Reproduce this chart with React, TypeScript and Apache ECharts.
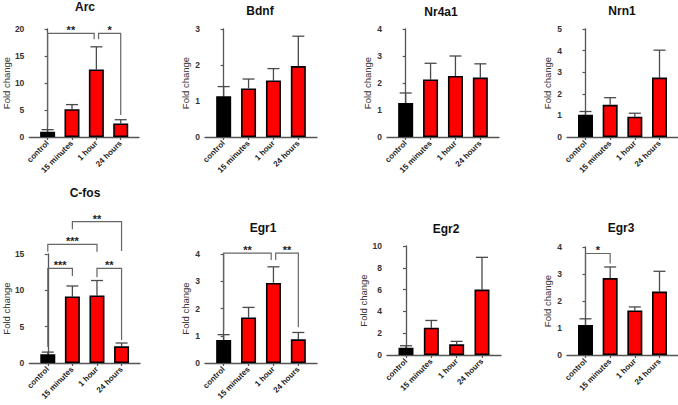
import React, { useEffect, useRef } from "react";
import * as echarts from "echarts";

// Time points after stimulation
const categories = ["control", "15 minutes", "1 hour", "24 hours"];

// Mean fold change and SEM per gene
const arcMean = [0.95, 5.15, 12.5, 2.5];
const arcSem = [0.41, 0.85, 4.2, 0.7];
const bdnfMean = [1.13, 1.35, 1.57, 1.97];
const bdnfSem = [0.27, 0.26, 0.33, 0.83];
const nr4a1Mean = [1.26, 2.13, 2.26, 2.2];
const nr4a1Sem = [0.37, 0.6, 0.74, 0.51];
const nrn1Mean = [1.03, 1.49, 0.94, 2.75];
const nrn1Sem = [0.15, 0.33, 0.16, 1.27];
const cfosMean = [1.2, 9.15, 9.3, 2.3];
const cfosSem = [0.3, 1.45, 2.05, 0.45];
const egr1Mean = [0.84, 1.67, 2.94, 0.87];
const egr1Sem = [0.2, 0.37, 0.59, 0.25];
const egr2Mean = [0.67, 2.5, 0.98, 6.0];
const egr2Sem = [0.18, 0.67, 0.27, 2.96];
const egr3Mean = [1.11, 2.85, 1.65, 2.35];
const egr3Sem = [0.23, 0.41, 0.13, 0.75];

// Y axis ranges: [max, interval]
const arcAxis = [20, 5];
const bdnfAxis = [3, 1];
const nr4a1Axis = [4, 1];
const nrn1Axis = [5, 1];
const cfosAxis = [15, 5];
const egr1Axis = [4, 1];
const egr2Axis = [10, 2];
const egr3Axis = [4, 1];

// Significance brackets: [from, to, bracket height, left leg end, right leg end, stars]
const arcSig: [number, number, number, number, number, string][] = [
  [0, 1.91, 19.2, 1.9, 18.1, "**"],
  [2.09, 3, 19.2, 18.1, 4.07, "*"],
];
const cfosSig: [number, number, number, number, number, string][] = [
  [1, 3, 19.45, 18.4, 15.4, "**"],
  [0, 2, 16.33, 15.3, 15.3, "***"],
  [0, 1, 13.03, 2.25, 11.97, "***"],
  [2, 3, 13.03, 11.8, 3.17, "**"],
];
const egr1Sig: [number, number, number, number, number, string][] = [
  [0, 1.91, 4.03, 1.21, 3.78, "**"],
  [2.09, 3, 4.03, 3.78, 1.31, "**"],
];
const egr3Sig: [number, number, number, number, number, string][] = [
  [0, 1, 3.76, 1.48, 3.39, "*"],
];

const FONT = "'Liberation Sans', Arial, sans-serif";

type Panel = {
  title: string;
  mean: number[];
  sem: number[];
  axis: number[];
  sig: [number, number, number, number, number, string][];
  grid: { left: number; top: number; width: number; height: number };
  titlePos: [number, number];
};

const panels: Panel[] = [
  { title: "Arc", mean: arcMean, sem: arcSem, axis: arcAxis, sig: arcSig,
    grid: { left: 27, top: 29, width: 112, height: 108 }, titlePos: [85, 7] },
  { title: "Bdnf", mean: bdnfMean, sem: bdnfSem, axis: bdnfAxis, sig: [],
    grid: { left: 205, top: 29, width: 112, height: 108 }, titlePos: [260, 11] },
  { title: "Nr4a1", mean: nr4a1Mean, sem: nr4a1Sem, axis: nr4a1Axis, sig: [],
    grid: { left: 387, top: 29, width: 112, height: 108 }, titlePos: [441, 12] },
  { title: "Nrn1", mean: nrn1Mean, sem: nrn1Sem, axis: nrn1Axis, sig: [],
    grid: { left: 567, top: 29, width: 111, height: 108 }, titlePos: [622, 11] },
  { title: "C-fos", mean: cfosMean, sem: cfosSem, axis: cfosAxis, sig: cfosSig,
    grid: { left: 28, top: 254, width: 112, height: 109 }, titlePos: [85, 193] },
  { title: "Egr1", mean: egr1Mean, sem: egr1Sem, axis: egr1Axis, sig: egr1Sig,
    grid: { left: 205, top: 254, width: 112, height: 109 }, titlePos: [263, 228] },
  { title: "Egr2", mean: egr2Mean, sem: egr2Sem, axis: egr2Axis, sig: [],
    grid: { left: 387, top: 246, width: 114, height: 109 }, titlePos: [446, 229] },
  { title: "Egr3", mean: egr3Mean, sem: egr3Sem, axis: egr3Axis, sig: egr3Sig,
    grid: { left: 567, top: 247, width: 111, height: 108 }, titlePos: [621, 228] },
];

function buildOption() {
  const grid: any[] = [];
  const xAxis: any[] = [];
  const yAxis: any[] = [];
  const series: any[] = [];
  const graphic: any[] = [];
  const axisLine = { show: true, lineStyle: { color: "#555", width: 1.3 } };

  panels.forEach((p, gi) => {
    grid.push({ ...p.grid, containLabel: false });
    xAxis.push({
      type: "value",
      gridIndex: gi,
      min: -0.75,
      max: 3.75,
      splitLine: { show: false },
      axisLine,
      axisTick: {
        show: true,
        customValues: [0, 1, 2, 3],
        length: 3,
        lineStyle: { color: "#555", width: 1.2 },
      },
      axisLabel: {
        customValues: [0, 1, 2, 3],
        formatter: (v: number) => categories[Math.round(v)] ?? "",
        rotate: 45,
        margin: 5,
        fontSize: 8,
        fontWeight: "bold",
        color: "#222",
        fontFamily: FONT,
      },
    });
    yAxis.push({
      type: "value",
      gridIndex: gi,
      min: 0,
      max: p.axis[0],
      interval: p.axis[1],
      name: "Fold change",
      nameLocation: "middle",
      nameGap: 15,
      nameTextStyle: { fontSize: 9.5, color: "#333", fontFamily: FONT },
      splitLine: { show: false },
      axisLine,
      axisTick: { show: true, length: 3, lineStyle: { color: "#555", width: 1.2 } },
      axisLabel: {
        margin: 5,
        fontSize: 8.5,
        fontWeight: "bold",
        color: "#333",
        fontFamily: FONT,
      },
    });

    // Error bars (upper whisker only)
    series.push({
      type: "custom",
      xAxisIndex: gi,
      yAxisIndex: gi,
      z: 1,
      data: p.mean.map((m, i) => [i, m, m + p.sem[i]]),
      renderItem: (_params: any, api: any) => {
        const x = api.value(0);
        const base = api.coord([x, api.value(1)]);
        const top = api.coord([x, api.value(2)]);
        const st = { stroke: "#4a4a4a", lineWidth: 1.3 };
        return {
          type: "group",
          children: [
            { type: "line", shape: { x1: base[0], y1: base[1], x2: top[0], y2: top[1] }, style: st },
            { type: "line", shape: { x1: top[0] - 6, y1: top[1], x2: top[0] + 6, y2: top[1] }, style: st },
          ],
        };
      },
    });

    // Bars
    series.push({
      type: "bar",
      xAxisIndex: gi,
      yAxisIndex: gi,
      z: 2,
      barWidth: 15,
      data: p.mean.map((m, i) => ({
        value: [i, m],
        itemStyle: { color: i === 0 ? "#000000" : "#ff0000", borderColor: "#000", borderWidth: 1.6 },
      })),
    });

    // Significance brackets
    if (p.sig.length) {
      const stars = p.sig.map((s) => s[5]);
      series.push({
        type: "custom",
        xAxisIndex: gi,
        yAxisIndex: gi,
        z: 3,
        clip: false,
        data: p.sig.map((s) => [s[0], s[1], s[2], s[3], s[4]]),
        renderItem: (params: any, api: any) => {
          const x1 = api.value(0);
          const x2 = api.value(1);
          const h = api.value(2);
          const a = api.coord([x1, api.value(3)]);
          const b = api.coord([x1, h]);
          const c = api.coord([x2, h]);
          const d = api.coord([x2, api.value(4)]);
          return {
            type: "group",
            children: [
              {
                type: "polyline",
                shape: { points: [a, b, c, d] },
                style: { stroke: "#666", lineWidth: 1.2, fill: null },
              },
              {
                type: "text",
                x: (b[0] + c[0]) / 2,
                y: b[1] - 3,
                style: {
                  text: stars[params.dataIndex],
                  textAlign: "center",
                  textVerticalAlign: "middle",
                  font: `bold 11px ${FONT}`,
                  fill: "#222",
                },
              },
            ],
          };
        },
      });
    }

    graphic.push({
      type: "text",
      x: p.titlePos[0],
      y: p.titlePos[1],
      style: {
        text: p.title,
        textAlign: "center",
        textVerticalAlign: "middle",
        font: `bold 12px ${FONT}`,
        fill: "#111",
      },
    });
  });

  return {
    animation: false,
    backgroundColor: "#ffffff",
    textStyle: { fontFamily: FONT },
    grid,
    xAxis,
    yAxis,
    series,
    graphic,
  };
}

export default function App() {
  const ref = useRef<HTMLDivElement>(null);
  useEffect(() => {
    document.body.style.margin = "0";
    if (!ref.current) return;
    const chart = echarts.init(ref.current, null, { renderer: "svg" });
    chart.setOption(buildOption() as any);
    return () => chart.dispose();
  }, []);
  return <div ref={ref} style={{ width: 678, height: 405, position: "absolute", left: 0, top: 0 }} />;
}
